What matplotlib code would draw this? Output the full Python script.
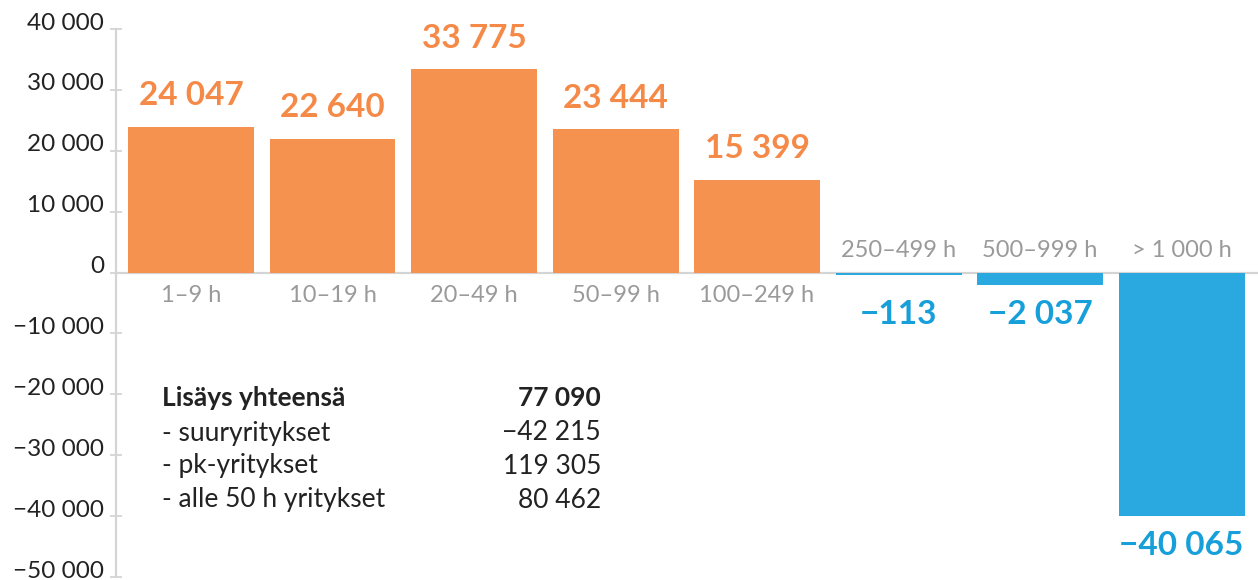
import numpy as np
import matplotlib.pyplot as plt
from matplotlib.transforms import ScaledTranslation

# Data
categories = ['1–9 h', '10–19 h', '20–49 h', '50–99 h', '100–249 h',
              '250–499 h', '500–999 h', '> 1 000 h']
values = [24047, 22640, 33775, 23444, 15399, -113, -2037, -40065]
# bar heights as drawn in the original (they don't quite match the labels)
heights = [23900, 22000, 33400, 23500, 15200, -400, -2000, -40000]

summary_labels = ['Lisäys yhteensä', '- suuryritykset', '- pk-yritykset', '- alle 50 h yritykset']
summary_values = ['77 090', '−42 215', '119 305', '80 462']

yticks = np.arange(-50000, 40001, 10000)

ORANGE = '#F5924F'
BLUE = '#29A9E0'
ORANGE_TXT = '#F58A48'
BLUE_TXT = '#179FDA'
GREY_TXT = '#9a9a9a'
DARK = '#222222'
AX_GREY = '#d4d4d4'

plt.rcParams['font.family'] = ['Lato', 'DejaVu Sans']


def fmt(v):
  s = f'{abs(v):,}'.replace(',', ' ')
  return ('−' if v < 0 else '') + s


W, H = 1258, 580
fig = plt.figure(figsize=(W / 100, H / 100), dpi=100)
ax = fig.add_axes([116 / W, 3 / H, (W - 116) / W, (H - 32) / H])

x = np.arange(len(categories))
cols = [ORANGE if v > 0 else BLUE for v in values]
ax.bar(x, heights, width=0.89, color=cols, zorder=3)
ax.axhline(0, color=AX_GREY, lw=1.6, zorder=1)

ax.set_xlim(-0.53, len(categories) - 0.46)
ax.set_ylim(-50000, 40000)

# value labels
for xi, v, h in zip(x, values, heights):
  if v > 0:
    ax.annotate(fmt(v), (xi, h), xytext=(0, 12), textcoords='offset points',
                ha='center', va='bottom', fontsize=24, fontweight='bold', color=ORANGE_TXT)
  else:
    ax.annotate(fmt(v), (xi, min(h, -2000)), xytext=(0, -11), textcoords='offset points',
                ha='center', va='top', fontsize=24, fontweight='bold', color=BLUE_TXT)

# category labels
for xi, c, v in zip(x, categories, values):
  if v > 0:
    ax.annotate(c, (xi, 0), xytext=(0, -9), textcoords='offset points',
                ha='center', va='top', fontsize=17, color=GREY_TXT)
  else:
    ax.annotate(c, (xi, 0), xytext=(0, 8), textcoords='offset points',
                ha='center', va='bottom', fontsize=17, color=GREY_TXT)

# y axis
ax.set_yticks(yticks)
ax.set_yticklabels([fmt(t) for t in yticks], fontsize=17.5, color=DARK)
ax.tick_params(axis='y', direction='inout', length=9, width=1.3, color=AX_GREY, pad=4)
shift = ScaledTranslation(0, 8 / 100, fig.dpi_scale_trans)
for lab in ax.get_yticklabels():
  lab.set_transform(lab.get_transform() + shift)
ax.set_xticks([])
for s in ['top', 'right', 'bottom']:
  ax.spines[s].set_visible(False)
ax.spines['left'].set_color(AX_GREY)
ax.spines['left'].set_linewidth(1.6)
ax.patch.set_alpha(0)

# summary box
row_y = [398, 433, 466, 500]
for i, (lab, val) in enumerate(zip(summary_labels, summary_values)):
  w = 'bold' if i == 0 else 'normal'
  fig.text(162 / W, 1 - row_y[i] / H, lab, ha='left', va='center', fontsize=19,
           fontweight=w, color=DARK)
  fig.text(601 / W, 1 - row_y[i] / H, val, ha='right', va='center', fontsize=19,
           fontweight=w, color=DARK)

fig.savefig('out.png', dpi=100)
